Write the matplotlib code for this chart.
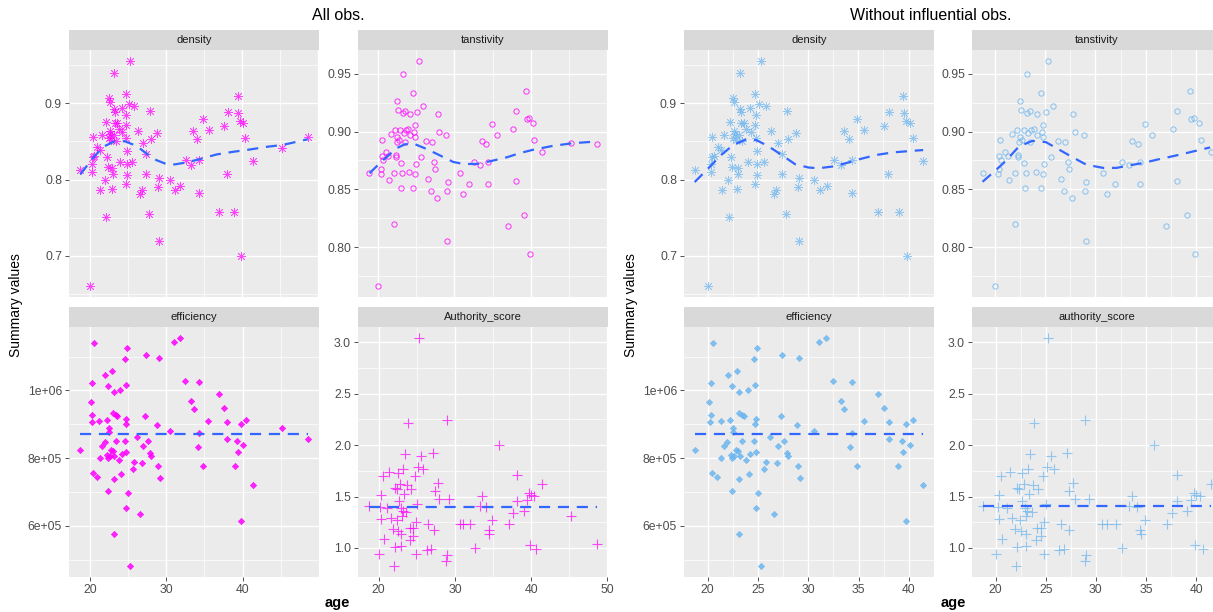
import numpy as np
import matplotlib
matplotlib.use('agg')
import matplotlib.pyplot as plt
from matplotlib.ticker import FixedLocator, FuncFormatter

plt.rcParams['font.family'] = ['Liberation Sans', 'DejaVu Sans']

dens_age = [18.77, 20.04, 20.4, 20.3, 20.35, 20.4, 20.6, 21.0, 21.3, 21.4, 21.6, 22.0, 22.1, 22.2,
            22.3, 22.4, 22.5, 22.6, 22.6, 22.5, 22.7, 22.8, 22.9, 22.98, 23.06, 23.2, 23.2, 23.3,
            23.3, 23.15, 23.4, 23.6, 23.8, 24.0, 24.2, 24.3, 24.7, 24.7, 24.7, 24.8, 24.8, 24.86,
            24.9, 24.95, 25.1, 25.3, 25.6, 25.8, 26.3, 26.6, 26.8, 27.0, 27.4, 27.4, 27.75, 27.9,
            28.0, 28.8, 29.0, 29.1, 29.1, 30.6, 31.2, 31.9, 32.6, 33.3, 33.6, 34.1, 34.35, 34.35,
            34.9, 35.6, 37.0, 37.6, 38.0, 38.1, 39.0, 39.4, 39.5, 39.7, 39.8, 40.1, 40.4, 41.4,
            45.25, 48.6]
dens_val = [0.813, 0.661, 0.856, 0.810, 0.820, 0.829, 0.831, 0.843, 0.839, 0.786, 0.858, 0.800, 0.751,
            0.875, 0.829, 0.817, 0.907, 0.902, 0.864, 0.854, 0.860, 0.852, 0.788, 0.815, 0.807, 0.939,
            0.892, 0.888, 0.874, 0.858, 0.850, 0.874, 0.866, 0.823, 0.894, 0.862, 0.912, 0.794, 0.872,
            0.884, 0.854, 0.820, 0.806, 0.837, 0.899, 0.955, 0.823, 0.896, 0.863, 0.781, 0.786, 0.848,
            0.833, 0.808, 0.755, 0.890, 0.853, 0.861, 0.790, 0.802, 0.719, 0.799, 0.787, 0.792, 0.826,
            0.819, 0.863, 0.853, 0.782, 0.826, 0.879, 0.865, 0.758, 0.870, 0.808, 0.888, 0.758, 0.910,
            0.887, 0.877, 0.700, 0.874, 0.855, 0.825, 0.842, 0.856]

tans_age = [18.8, 20.0, 20.3, 20.35, 20.4, 20.5, 20.6, 20.96, 21.3, 21.4, 21.7, 22.0, 22.0, 22.2,
            22.3, 22.3, 22.45, 22.45, 22.4, 22.6, 22.7, 22.85, 22.9, 22.97, 23.06, 23.2, 23.2, 23.3,
            23.5, 23.5, 23.6, 23.85, 24.07, 24.2, 24.2, 24.55, 24.6, 24.7, 24.8, 24.8, 24.8, 24.9,
            25.1, 25.3, 25.56, 25.8, 26.3, 26.56, 26.9, 27.0, 27.27, 27.4, 27.66, 27.8, 27.97, 28.84,
            28.97, 29.1, 29.06, 30.7, 31.1, 31.95, 32.6, 33.35, 33.65, 34.2, 34.4, 34.4, 34.9, 35.6,
            37.0, 37.7, 38.1, 38.1, 39.1, 39.4, 39.5, 39.8, 39.9, 40.3, 40.5, 41.5, 45.3, 48.7]
tans_val = [0.864, 0.7666, 0.8637, 0.868, 0.8786, 0.8929, 0.875, 0.882, 0.879, 0.858, 0.898, 0.820,
            0.864, 0.9017, 0.880, 0.878, 0.9266, 0.8957, 0.8906, 0.9189, 0.8926, 0.901, 0.8726, 0.851,
            0.864, 0.950, 0.916, 0.8986, 0.8914, 0.918, 0.9017, 0.902, 0.865, 0.915, 0.8969, 0.851,
            0.9337, 0.900, 0.906, 0.895, 0.863, 0.8717, 0.917, 0.9609, 0.8777, 0.922, 0.8917, 0.8586,
            0.8486, 0.8906, 0.8737, 0.8677, 0.8426, 0.9154, 0.900, 0.8974, 0.8486, 0.856, 0.8051, 0.864,
            0.8457, 0.8543, 0.8737, 0.8714, 0.8917, 0.8889, 0.8734, 0.8549, 0.9069, 0.8974, 0.8186,
            0.9026, 0.918, 0.8574, 0.8277, 0.9351, 0.9106, 0.9114, 0.7937, 0.9077, 0.8931, 0.882,
            0.890, 0.8894]

eff_age = [18.77, 20.5, 20.1, 20.35, 20.35, 20.26, 20.44, 20.96, 21.27, 21.36, 21.66, 21.97, 21.93,
           22.19, 22.4, 22.4, 22.5, 22.54, 22.3, 22.4, 22.6, 22.8, 22.9, 22.98, 23.06, 23.15, 23.15,
           23.15, 23.2, 23.37, 23.4, 23.6, 23.76, 24.0, 24.1, 24.25, 24.6, 24.6, 24.7, 24.73, 24.8,
           24.8, 24.77, 24.86, 25.0, 25.25, 25.6, 25.8, 26.2, 26.56, 26.87, 26.96, 27.26, 27.35, 27.6,
           27.88, 27.97, 28.84, 28.93, 29.06, 29.15, 30.55, 31.03, 31.8, 32.5, 33.26, 33.57, 34.14,
           34.3, 34.35, 34.8, 35.5, 36.94, 37.55, 38.0, 38.0, 38.95, 39.3, 39.39, 39.74, 39.74, 40.1,
           40.4, 41.36, 45.1, 48.5]
eff_val = [823.6, 1140.9, 966.5, 1020.7, 926.0, 906.0, 755.7, 743.8, 908.4, 800.0, 835.5, 1044.3, 847.3,
           911.3, 1011.8, 703.4, 889.7, 877.8, 808.9, 800.0, 806.9, 825.6, 1058.1, 821.7, 934.0, 995.0,
           576.0, 740.0, 806.9, 927.0, 851.0, 924.0, 795.0, 1000.0, 753.7, 812.8, 1093.6, 852.0, 1015.8,
           900.5, 916.3, 818.7, 654.2, 1124.1, 697.5, 482.8, 768.5, 790.0, 863.0, 634.5, 785.2, 834.5,
           925.0, 1103.4, 851.0, 816.7, 806.0, 896.5, 778.3, 1096.5, 742.9, 879.8, 1142.8, 1153.7,
           1027.6, 968.6, 946.0, 832.5, 1025.6, 872.9, 778.3, 909.4, 990.0, 946.8, 907.4, 857.0, 778.3,
           852.0, 819.7, 899.5, 613.8, 839.4, 912.3, 721.2, 887.7, 855.2]
eff_val = [v * 1000 for v in eff_val]

auth_age = [18.77, 20.04, 20.35, 20.35, 20.2, 20.5, 20.66, 21.1, 21.4, 21.66, 21.9, 22.06, 22.14, 22.14,
            22.36, 22.58, 22.4, 22.54, 22.67, 22.84, 22.93, 22.98, 22.98, 23.2, 23.06, 23.15, 23.46,
            23.37, 23.6, 23.85, 23.76, 24.07, 24.25, 24.16, 24.5, 24.55, 24.77, 24.86, 25.0, 24.86,
            25.16, 25.25, 25.56, 25.86, 26.35, 26.52, 26.83, 27.1, 27.3, 27.35, 27.75, 27.88, 28.93,
            29.0, 28.88, 29.28, 30.63, 31.07, 31.99, 32.65, 33.57, 33.35, 34.1, 34.44, 34.49, 34.88,
            35.75, 37.07, 37.64, 38.1, 38.1, 39.1, 39.47, 39.78, 39.87, 40.0, 40.35, 40.66, 41.45,
            45.3, 48.6]
auth_val = [1.4065, 0.9415, 1.5106, 1.283, 1.397, 1.699, 1.088, 1.39, 1.738, 1.293, 1.185, 0.8276, 1.01,
            1.579, 1.569, 1.725, 1.276, 1.169, 1.455, 1.618, 1.39, 1.023, 1.137, 1.771, 1.315, 1.358,
            1.917, 1.52, 1.351, 2.213, 1.615, 1.078, 1.569, 1.192, 1.12, 1.192, 1.699, 0.945, 1.429,
            1.257, 1.79, 3.039, 1.894, 1.771, 0.977, 1.231, 0.99, 1.927, 1.179, 1.553, 1.628, 1.472,
            2.246, 0.935, 0.876, 1.472, 1.228, 1.228, 1.234, 1.0, 1.504, 1.406, 1.403, 1.179, 1.14,
            1.267, 1.998, 1.228, 1.335, 1.709, 1.459, 1.364, 1.462, 1.537, 1.026, 1.514, 1.504, 0.99,
            1.624, 1.315, 1.036]

# the two influential observations are the oldest ones
influential_cut = 43

# smoother curves
dens_fit_all_x = [18.77, 20.44, 21.75, 23.28, 24.6, 26.13, 27.44, 28.75, 30.07, 31.16, 32.7, 34.44,
                  36.63, 38.82, 41.0, 43.2, 45.38, 48.6]
dens_fit_all_y = [0.8069, 0.8286, 0.8429, 0.8502, 0.8502, 0.8442, 0.8342, 0.8255, 0.8203, 0.8199,
                  0.8225, 0.8268, 0.8329, 0.8364, 0.8394, 0.8429, 0.8455, 0.8528]
tans_fit_all_x = [18.82, 20.44, 22.4, 23.5, 24.8, 26.35, 27.9, 29.85, 31.2, 32.9, 34.66, 36.85, 38.6,
                  40.35, 42.98, 45.6, 48.66]
tans_fit_all_y = [0.864, 0.8743, 0.8857, 0.8891, 0.8891, 0.8849, 0.880, 0.8737, 0.872, 0.872, 0.8743,
                  0.8777, 0.8814, 0.8843, 0.8877, 0.890, 0.8914]
dens_fit_sub_x = [18.7, 20.0, 21.34, 22.51, 23.85, 24.86, 26.03, 27.37, 28.71, 30.05, 31.06, 32.4,
                  33.74, 35.08, 36.75, 38.43, 40.1, 41.45]
dens_fit_sub_y = [0.7968, 0.8140, 0.8322, 0.8451, 0.8529, 0.8516, 0.8438, 0.8322, 0.8201, 0.8158,
                  0.8149, 0.8171, 0.8214, 0.8266, 0.8322, 0.8356, 0.8374, 0.8387]
tans_fit_sub_x = [18.72, 20.0, 21.0, 22.35, 23.7, 25.04, 26.39, 27.73, 29.08, 30.76, 32.1, 33.45,
                  34.79, 36.13, 37.82, 39.5, 41.45]
tans_fit_sub_y = [0.8566, 0.8663, 0.8743, 0.8871, 0.892, 0.8909, 0.8843, 0.8777, 0.8714, 0.8686,
                  0.8686, 0.8709, 0.8729, 0.8757, 0.8789, 0.8823, 0.8863]
eff_fit_all, eff_fit_sub = 870000, 870000
auth_fit_all, auth_fit_sub = 1.403, 1.407

W, H = 1213, 612
fig = plt.figure(figsize=(W / 100, H / 100), dpi=100)


def px_axes(l, t, r, b):
    return fig.add_axes([l / W, 1 - b / H, (r - l) / W, (b - t) / H])


def facet(l, t, r, b, label, x, y, marker, color, fit, yticks, ylabels, yminor, xticks, xminor, show_x):
    strip = px_axes(l, t, r, t + 20)
    strip.set_facecolor('#D9D9D9')
    strip.set_xticks([])
    strip.set_yticks([])
    for s in strip.spines.values():
        s.set_visible(False)
    strip.text(0.5, 0.5, label, ha='center', va='center', fontsize=8, color='#1A1A1A',
               transform=strip.transAxes)

    ax = px_axes(l, t + 20, r, b)
    ax.set_facecolor('#EBEBEB')
    for s in ax.spines.values():
        s.set_visible(False)

    x = np.array(x)
    y = np.array(y)
    xr = x.max() - x.min()
    yr = y.max() - y.min()
    ax.set_xlim(x.min() - 0.05 * xr, x.max() + 0.05 * xr)
    ax.set_ylim(y.min() - 0.05 * yr, y.max() + 0.05 * yr)

    ax.xaxis.set_major_locator(FixedLocator(xticks))
    ax.xaxis.set_minor_locator(FixedLocator(xminor))
    ax.yaxis.set_major_locator(FixedLocator(yticks))
    ax.yaxis.set_minor_locator(FixedLocator(yminor))
    ax.set_yticklabels(ylabels)
    ax.grid(True, which='major', color='white', linewidth=1.0)
    ax.grid(True, which='minor', color='white', linewidth=0.5)
    ax.set_axisbelow(True)
    ax.tick_params(which='minor', length=0)
    ax.tick_params(which='major', length=3, width=0.6, color='#333333', labelsize=8.8,
                   labelcolor='#4D4D4D', pad=2)
    if show_x:
        ax.xaxis.set_major_formatter(FuncFormatter(lambda v, p: '%d' % v))
    else:
        ax.tick_params(axis='x', which='major', length=0, labelbottom=False)

    if marker == 'ast':
        ax.plot(x, y, linestyle='none', marker=(8, 2, 0), markersize=6.5, markeredgewidth=0.55,
                color=color, alpha=0.7)
    elif marker == 'circ':
        ax.plot(x, y, linestyle='none', marker='o', markersize=3.8, markerfacecolor='none',
                markeredgewidth=0.7, markeredgecolor=color, alpha=0.8)
    elif marker == 'dia':
        ax.plot(x, y, linestyle='none', marker='D', markersize=3.2, markeredgewidth=0.5,
                color=color, alpha=0.85)
    else:
        ax.plot(x, y, linestyle='none', marker='+', markersize=7, markeredgewidth=0.8,
                color=color, alpha=0.7)

    # dashed smoother
    if np.isscalar(fit):
        ax.plot([x.min(), x.max()], [fit, fit], color='#3366FF', linewidth=1.6, dashes=(5, 3.5))
    else:
        ax.plot(fit[0], fit[1], color='#3366FF', linewidth=1.6, dashes=(5, 3.5))
    return ax


def group(x0, color, sub, auth_label):
    if sub:
        keep = lambda ages, vals: ([a for a in ages if a < influential_cut],
                                   [v for a, v in zip(ages, vals) if a < influential_cut])
        xt, xm = [20, 25, 30, 35, 40], [22.5, 27.5, 32.5, 37.5]
        fits = [(dens_fit_sub_x, dens_fit_sub_y), (tans_fit_sub_x, tans_fit_sub_y), eff_fit_sub, auth_fit_sub]
    else:
        keep = lambda ages, vals: (ages, vals)
        xt, xm = [20, 30, 40, 50], [25, 35, 45]
        fits = [(dens_fit_all_x, dens_fit_all_y), (tans_fit_all_x, tans_fit_all_y), eff_fit_all, auth_fit_all]

    c1 = x0
    c2 = x0 + 289 if not sub else x0 + 288
    w = 250
    dx, dy = keep(dens_age, dens_val)
    facet(c1, 30, c1 + w, 297, 'density', dx, dy, 'ast', color, fits[0],
          [0.7, 0.8, 0.9], ['0.7', '0.8', '0.9'], [0.65, 0.75, 0.85, 0.95], xt, xm, False)
    tx, ty = keep(tans_age, tans_val)
    facet(c2, 30, c2 + w, 297, 'tanstivity', tx, ty, 'circ', color, fits[1],
          [0.80, 0.85, 0.90, 0.95], ['0.80', '0.85', '0.90', '0.95'], [0.775, 0.825, 0.875, 0.925],
          xt, xm, False)
    ex, ey = keep(eff_age, eff_val)
    facet(c1, 307, c1 + w, 577, 'efficiency', ex, ey, 'dia', color, fits[2],
          [6e5, 8e5, 1e6], ['6e+05', '8e+05', '1e+06'], [5e5, 7e5, 9e5, 1.1e6], xt, xm, True)
    ax_, ay = keep(auth_age, auth_val)
    facet(c2, 307, c2 + w, 577, auth_label, ax_, ay, 'plus', color, fits[3],
          [1.0, 1.5, 2.0, 2.5, 3.0], ['1.0', '1.5', '2.0', '2.5', '3.0'], [1.25, 1.75, 2.25, 2.75],
          xt, xm, True)


group(69, '#FF00FF', False, 'Authority_score')
group(684, '#6DB6EE', True, 'authority_score')

# titles and axis labels
fig.text(338 / W, 1 - 15 / H, 'All obs.', ha='center', va='center', fontsize=11.5)
fig.text(931 / W, 1 - 15 / H, 'Without influential obs.', ha='center', va='center', fontsize=11.5)
fig.text(16 / W, 1 - 305 / H, 'Summary values', rotation=90, ha='center', va='center', fontsize=10)
fig.text(631 / W, 1 - 305 / H, 'Summary values', rotation=90, ha='center', va='center', fontsize=10)
fig.text(337 / W, 1 - 603 / H, 'age', ha='center', va='center', fontsize=10.5, fontweight='bold')
fig.text(953 / W, 1 - 603 / H, 'age', ha='center', va='center', fontsize=10.5, fontweight='bold')

fig.savefig('out.png', dpi=100, facecolor='white')
plt.close()
